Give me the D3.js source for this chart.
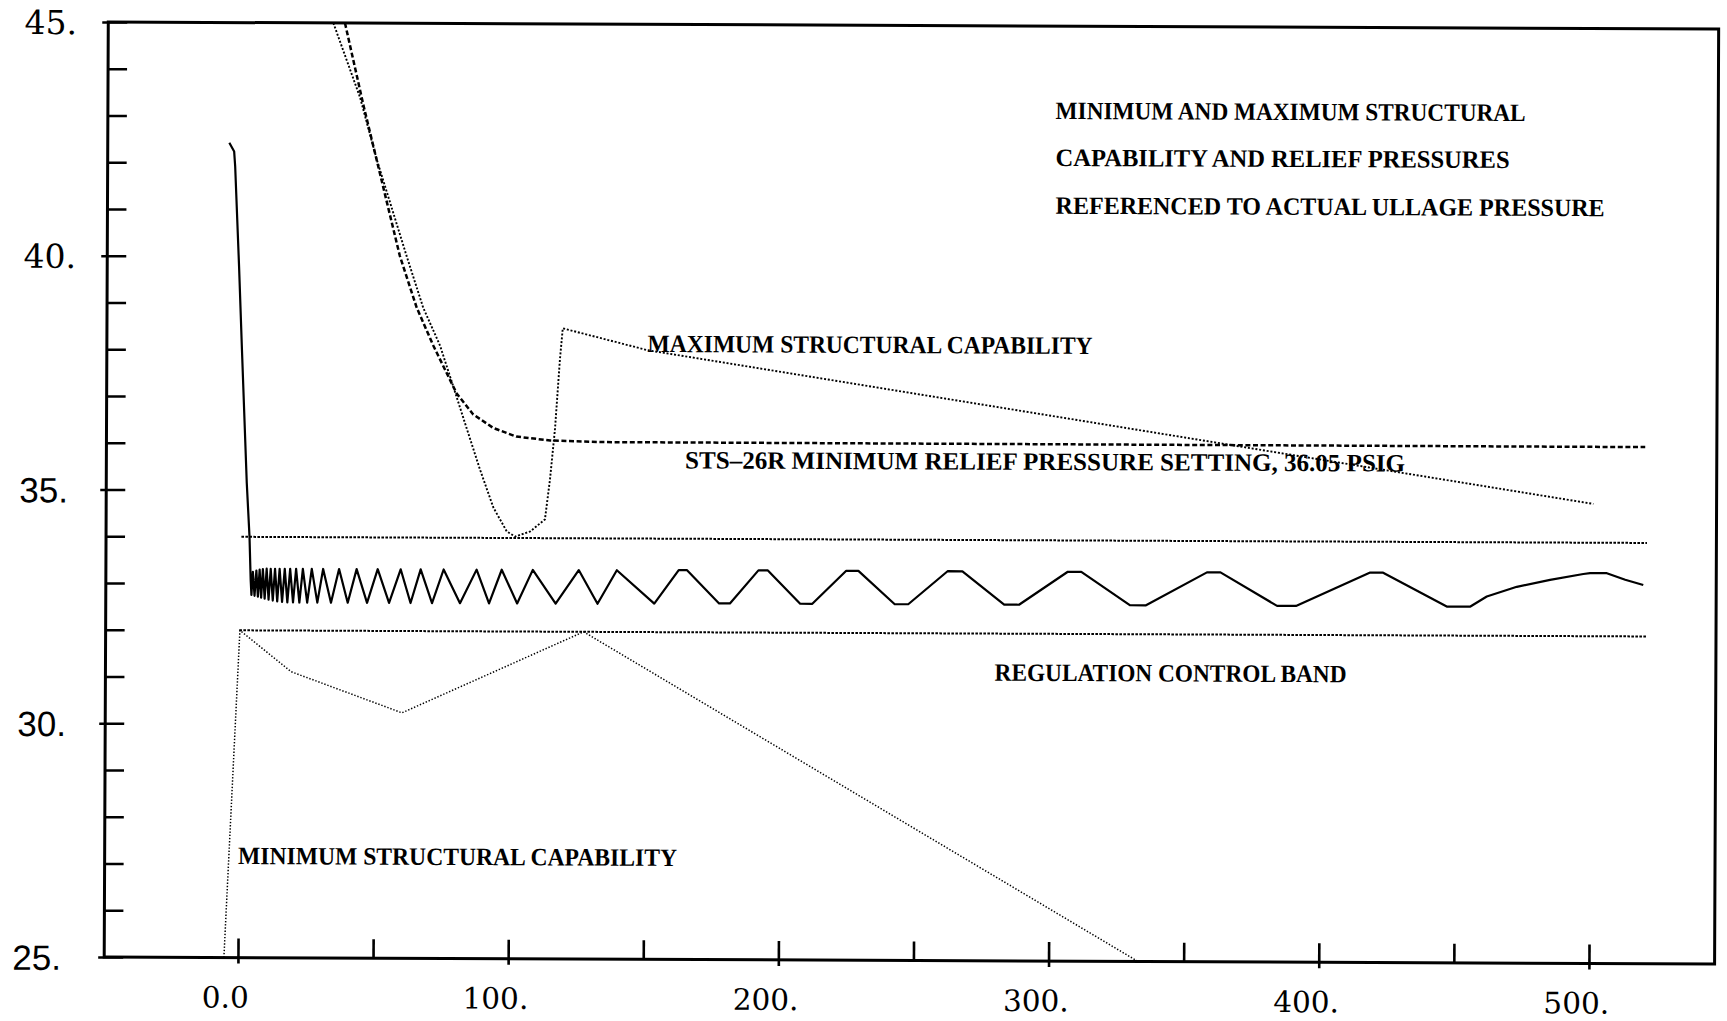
<!DOCTYPE html>
<html>
<head>
<meta charset="utf-8">
<script src="https://cdn.jsdelivr.net/npm/d3@7"></script>
<style>
html,body{margin:0;padding:0;background:#fff;}
svg{display:block;}
</style>
</head>
<body>
<svg id="chart" width="1727" height="1021"></svg>
<script>
// ---------------- DATA ----------------
const xTickValues = [0, 50, 100, 150, 200, 250, 300, 350, 400, 450, 500];
const xTickLabels = {0: "0.0", 100: "100.", 200: "200.", 300: "300.", 400: "400.", 500: "500."};
const yTickValues = [25, 26, 27, 28, 29, 30, 31, 32, 33, 34, 35, 36, 37, 38, 39, 40, 41, 42, 43, 44, 45];
const yTickLabels = {25: "25.", 30: "30.", 35: "35.", 40: "40.", 45: "45."};

// Actual ullage pressure (solid)
const ullageTime = [-4.5, -2.7, -2.3, -0.7, 0.5, 2.5, 3.6, 4.1, 4.4,
  4.9, 5.55, 6.2, 6.8, 7.4, 8.0, 8.6, 9.3, 10.0, 10.75, 11.5, 12.3, 13.1, 13.95, 14.8, 15.75,
  16.7, 17.7, 18.7, 19.8, 20.9, 22.15, 23.4, 25.05, 26.7, 28.8, 30.9, 33.85, 36.8, 40.05,
  43.3, 47.2, 51.1, 55.35, 59.6, 63.3, 67.0, 71.25, 75.5, 81.6, 87.7, 92.35, 97.0, 102.75,
  108.5, 117.0, 125.5, 132.5, 139.6, 153.5,
  162.5, 165.5, 177.5, 181.5, 192.0, 195.5, 207.5, 212.0, 224.5, 229.0, 242.5, 247.5,
  262.0, 267.5, 283.0, 288.5, 306.5, 311.5, 329.5, 335.5, 358.0, 363.0, 384.0, 391.0,
  418.4, 423.2, 446.8, 455.4, 461.6, 472.7, 485.0, 497.3, 499.8, 506.0, 512.8, 519.5];
const ullagePsi = [42.43, 42.24, 41.92, 39.78, 38.0, 35.15, 34.0, 33.08, 32.76,
  33.25, 32.74, 33.28, 32.72, 33.30, 32.70, 33.31, 32.68, 33.32, 32.66, 33.32, 32.64, 33.32, 32.62, 33.32, 32.61,
  33.32, 32.60, 33.32, 32.60, 33.32, 32.60, 33.32, 32.60, 33.32, 32.60, 33.32, 32.60, 33.32, 32.60,
  33.32, 32.60, 33.32, 32.60, 33.32, 32.60, 33.32, 32.60, 33.32, 32.60, 33.32, 32.60, 33.32, 32.60,
  33.32, 32.60, 33.32, 32.60, 33.32, 32.61,
  33.33, 33.33, 32.62, 32.62, 33.33, 33.33, 32.62, 32.62, 33.33, 33.33, 32.62, 32.62,
  33.33, 33.33, 32.62, 32.62, 33.33, 33.33, 32.62, 32.62, 33.33, 33.33, 32.62, 32.62,
  33.34, 33.34, 32.62, 32.62, 32.84, 33.05, 33.20, 33.33, 33.35, 33.35, 33.21, 33.10];

// Maximum structural capability (fine dotted)
const maxCapTime = [33.8, 43.8, 50.1, 61.3, 67.5, 73.8, 78.8, 83.8, 88.8, 93.8, 98.8, 101.9,
  107.4, 112.9, 114.7, 116.5, 118.2, 119.2, 150.6, 500.9];
const maxCapPsi = [45.0, 43.41, 42.08, 40.02, 38.92, 38.11, 37.23, 36.34, 35.46, 34.65, 34.14, 34.03,
  34.14, 34.40, 35.25, 36.35, 37.83, 38.49, 38.03, 34.83];

// STS-26R minimum relief pressure setting (dashed)
const reliefTime = [38.1, 45.0, 58.8, 65.1, 71.3, 77.6, 80.1, 86.2, 93.7, 102.2, 114.7, 133.2, 520.0];
const reliefPsi = [45.0, 43.26, 40.02, 38.92, 38.11, 37.37, 37.08, 36.64, 36.35, 36.17, 36.09, 36.06, 36.05];

// Minimum structural capability (fine dotted)
const minCapTime = [-5.2, 0.2, 19.2, 60.3, 127.4, 333.1];
const minCapPsi = [25.0, 32.0, 31.12, 30.25, 32.0, 25.0];

// Regulation control band (dotted)
const bandUpperTime = [0.6, 520.8];
const bandUpperPsi = [34.0, 34.0];
const bandLowerTime = [0.0, 520.8];
const bandLowerPsi = [32.0, 32.0];

const annotationTexts = [
  "MINIMUM AND MAXIMUM STRUCTURAL",
  "CAPABILITY AND RELIEF PRESSURES",
  "REFERENCED TO ACTUAL ULLAGE PRESSURE",
  "MAXIMUM STRUCTURAL CAPABILITY",
  "STS\u201326R MINIMUM RELIEF PRESSURE SETTING, 36.05 PSIG",
  "REGULATION CONTROL BAND",
  "MINIMUM STRUCTURAL CAPABILITY"
];

// ---------------- LAYOUT ----------------
const xMin = -49.5, xMax = 546.5;
const x = d3.scaleLinear().domain([0, 500]).range([240.0, 1591.0]);
const y = d3.scaleLinear().domain([25, 45]).range([960.5, 25.5]);

const annotationLayout = [
  {x: 1054.0, y: 118.4, w: 470},
  {x: 1054.2, y: 165.4, w: 454},
  {x: 1054.4, y: 213.2, w: 549},
  {x: 647.0, y: 353.2, w: 445},
  {x: 685.0, y: 469.4, w: 720},
  {x: 995.4, y: 680.4, w: 352},
  {x: 239.6, y: 867.0, w: 439}
];
// right end of each y tick label (px, before rotation)
const yLabelEnd = {45: 75, 40: 75, 35: 68, 30: 67, 25: 63};

const svg = d3.select("#chart");
svg.append("rect").attr("width", 1727).attr("height", 1021).attr("fill", "#fff");
const g = svg.append("g").attr("transform", "rotate(0.25,913,489)");

// ---------------- AXES ----------------
const yAxis = d3.axisLeft(y).tickValues(yTickValues).tickSize(-19).tickPadding(0)
  .tickFormat(d => yTickLabels[d] || "");
const gy = g.append("g").attr("transform", `translate(${x(xMin)},0)`).call(yAxis);
gy.select(".domain").remove();
gy.selectAll(".tick line").attr("stroke", "#000").attr("stroke-width", 2.6)
  .attr("x1", d => (d % 5 === 0 ? -6 : 0));
gy.selectAll(".tick text")
  .attr("fill", "#000")
  .attr("x", d => (yLabelEnd[d] || 70) - x(xMin))
  .attr("dy", "0.36em")
  .style("font-family", d => (d >= 40 ? "'DejaVu Serif', serif" : "'Liberation Sans', Arial, sans-serif"))
  .style("font-size", d => (d >= 40 ? "33px" : "35px"));

const xAxis = d3.axisBottom(x).tickValues(xTickValues).tickSize(-19).tickPadding(0)
  .tickFormat(d => xTickLabels[d] || "");
const gx = g.append("g").attr("transform", `translate(0,${y(25)})`).call(xAxis);
gx.select(".domain").remove();
gx.selectAll(".tick line").attr("stroke", "#000").attr("stroke-width", 2.6)
  .attr("y1", d => (d % 100 === 0 ? 6 : 0));
gx.selectAll(".tick text")
  .attr("fill", "#000")
  .attr("y", 50).attr("dy", 0).attr("dx", -13)
  .style("font-family", "'DejaVu Serif', serif")
  .style("font-size", "29.5px");

// frame
g.append("rect")
  .attr("x", x(xMin)).attr("y", y(45))
  .attr("width", x(xMax) - x(xMin)).attr("height", y(25) - y(45))
  .attr("fill", "none").attr("stroke", "#000").attr("stroke-width", 3);

// ---------------- SERIES ----------------
function drawSeries(times, values, style) {
  const pts = times.map((t, i) => [t, values[i]]);
  const line = d3.line().x(d => x(d[0])).y(d => y(d[1]));
  const p = g.append("path").datum(pts)
    .attr("d", line)
    .attr("fill", "none")
    .attr("stroke", "#000")
    .attr("stroke-width", style.width)
    .attr("stroke-linejoin", "round");
  if (style.dash) p.attr("stroke-dasharray", style.dash);
}

drawSeries(bandUpperTime, bandUpperPsi, {width: 2.0, dash: "2.6,1.4"});
drawSeries(bandLowerTime, bandLowerPsi, {width: 2.0, dash: "2.6,1.4"});
drawSeries(minCapTime, minCapPsi, {width: 1.5, dash: "1.4,1.8"});
drawSeries(maxCapTime, maxCapPsi, {width: 1.9, dash: "2,1.8"});
drawSeries(reliefTime, reliefPsi, {width: 2.5, dash: "5,2.6"});
drawSeries(ullageTime, ullagePsi, {width: 2.2});

// ---------------- ANNOTATIONS ----------------
g.selectAll("text.anno").data(annotationTexts).enter().append("text")
  .attr("class", "anno")
  .attr("x", (d, i) => annotationLayout[i].x)
  .attr("y", (d, i) => annotationLayout[i].y)
  .attr("textLength", (d, i) => annotationLayout[i].w)
  .attr("lengthAdjust", "spacingAndGlyphs")
  .attr("fill", "#000")
  .style("font-family", "'Liberation Serif', 'Times New Roman', serif")
  .style("font-weight", "bold")
  .style("font-size", "25px")
  .text(d => d);
</script>
</body>
</html>
